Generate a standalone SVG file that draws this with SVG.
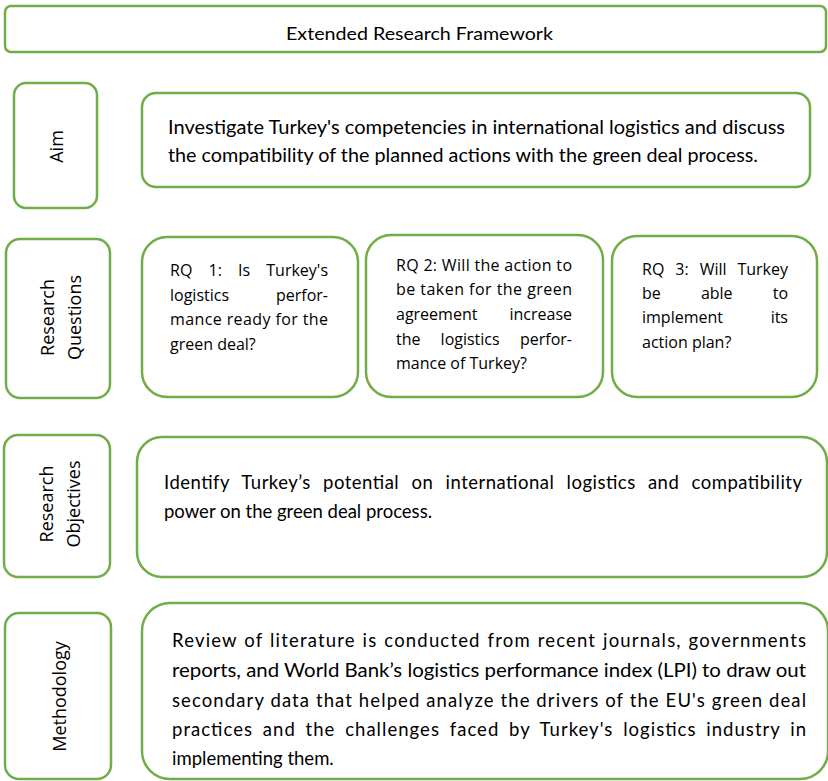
<svg xmlns="http://www.w3.org/2000/svg" width="828" height="781" viewBox="0 0 828 781">
<style>
.box{fill:#fff;stroke:#70AD47;stroke-width:2.5}
.body{font-family:Lato,"Liberation Sans",sans-serif;font-size:18.5px;fill:#000}
.ttl{font-family:Lato,"Liberation Sans",sans-serif;font-size:17.5px;fill:#000}
.rq{font-family:"Open Sans","Liberation Sans",sans-serif;font-size:16px;fill:#000}
.lab{font-family:"Open Sans","Liberation Sans",sans-serif;font-size:18px;fill:#000;text-anchor:middle}
</style>
<rect width="828" height="781" fill="#fff"/>
<g id="title">
<rect class="box" x="5" y="6" width="821" height="46" rx="6"/>
<text class="ttl" x="286" y="40" textLength="267" lengthAdjust="spacingAndGlyphs">Extended Research Framework</text>
</g>
<g id="aim-label">
<rect class="box" x="14" y="83" width="83" height="125" rx="12"/>
<text class="lab" transform="translate(63,146.5) rotate(-90)">Aim</text>
</g>
<g id="aim">
<rect class="box" x="142" y="93" width="668" height="94" rx="14"/>
<text class="body" x="168" y="134" textLength="617" lengthAdjust="spacingAndGlyphs">Investigate Turkey's competencies in international logistics and discuss</text>
<text class="body" x="168" y="162" textLength="590" lengthAdjust="spacingAndGlyphs">the compatibility of the planned actions with the green deal process.</text>
</g>
<g id="rq-label">
<rect class="box" x="6" y="239" width="104" height="159" rx="14"/>
<text class="lab" transform="translate(53.5,317.5) rotate(-90)">Research</text>
<text class="lab" transform="translate(81,317.5) rotate(-90)">Questions</text>
</g>
<g id="rq1">
<rect class="box" x="142" y="237" width="216" height="160" rx="25"/>
<text class="rq" y="276"><tspan x="170">RQ</tspan><tspan x="208.5">1:</tspan><tspan x="238">Is</tspan></text>
<text class="rq" x="328" y="276" text-anchor="end">Turkey's</text>
<text class="rq" x="170" y="300.5">logistics</text>
<text class="rq" x="328" y="300.5" text-anchor="end">perfor-</text>
<text class="rq" x="170" y="325" textLength="158" lengthAdjust="spacing">mance ready for the</text>
<text class="rq" x="170" y="349.5">green deal?</text>
</g>
<g id="rq2">
<rect class="box" x="366" y="235" width="237" height="162" rx="25"/>
<text class="rq" x="396" y="271" textLength="176" lengthAdjust="spacing">RQ 2: Will the action to</text>
<text class="rq" x="396" y="295" textLength="176" lengthAdjust="spacing">be taken for the green</text>
<text class="rq" x="396" y="320">agreement</text>
<text class="rq" x="572" y="320" text-anchor="end">increase</text>
<text class="rq" y="345"><tspan x="396">the</tspan><tspan x="440.6">logistics</tspan></text>
<text class="rq" x="572" y="345" text-anchor="end">perfor-</text>
<text class="rq" x="396" y="369">mance of Turkey?</text>
</g>
<g id="rq3">
<rect class="box" x="612" y="236" width="205" height="161" rx="25"/>
<text class="rq" y="275"><tspan x="642">RQ</tspan><tspan x="675.3">3:</tspan><tspan x="699.7">Will</tspan></text>
<text class="rq" x="788" y="275" text-anchor="end">Turkey</text>
<text class="rq" y="299"><tspan x="642">be</tspan><tspan x="700.9">able</tspan></text>
<text class="rq" x="788" y="299" text-anchor="end">to</text>
<text class="rq" x="642" y="323">implement</text>
<text class="rq" x="788" y="323" text-anchor="end">its</text>
<text class="rq" x="642" y="348">action plan?</text>
</g>
<g id="ro-label">
<rect class="box" x="4" y="435" width="106" height="142" rx="14"/>
<text class="lab" transform="translate(53,504) rotate(-90)">Research</text>
<text class="lab" transform="translate(80,504) rotate(-90)">Objectives</text>
</g>
<g id="ro">
<rect class="box" x="137" y="437" width="690" height="140" rx="25"/>
<text class="body" x="164" y="489" word-spacing="7" textLength="638" lengthAdjust="spacing">Identify Turkey’s potential on international logistics and compatibility</text>
<text class="body" x="164" y="518">power on the green deal process.</text>
</g>
<g id="meth-label">
<rect class="box" x="5" y="613" width="106" height="166" rx="14"/>
<text class="lab" transform="translate(66,696.5) rotate(-90)">Methodology</text>
</g>
<g id="meth">
<rect class="box" x="142" y="603" width="686" height="176" rx="28"/>
<text class="body" x="172" y="647" word-spacing="1" textLength="634" lengthAdjust="spacing">Review of literature is conducted from recent journals, governments</text>
<text class="body" x="172" y="677" textLength="634" lengthAdjust="spacingAndGlyphs">reports, and World Bank’s logistics performance index (LPI) to draw out</text>
<text class="body" x="172" y="706.5" textLength="634" lengthAdjust="spacing">secondary data that helped analyze the drivers of the EU's green deal</text>
<text class="body" x="172" y="736" word-spacing="4" textLength="634" lengthAdjust="spacing">practices and the challenges faced by Turkey's logistics industry in</text>
<text class="body" x="172" y="765">implementing them.</text>
</g>
<g id="connectors"/>
</svg>
